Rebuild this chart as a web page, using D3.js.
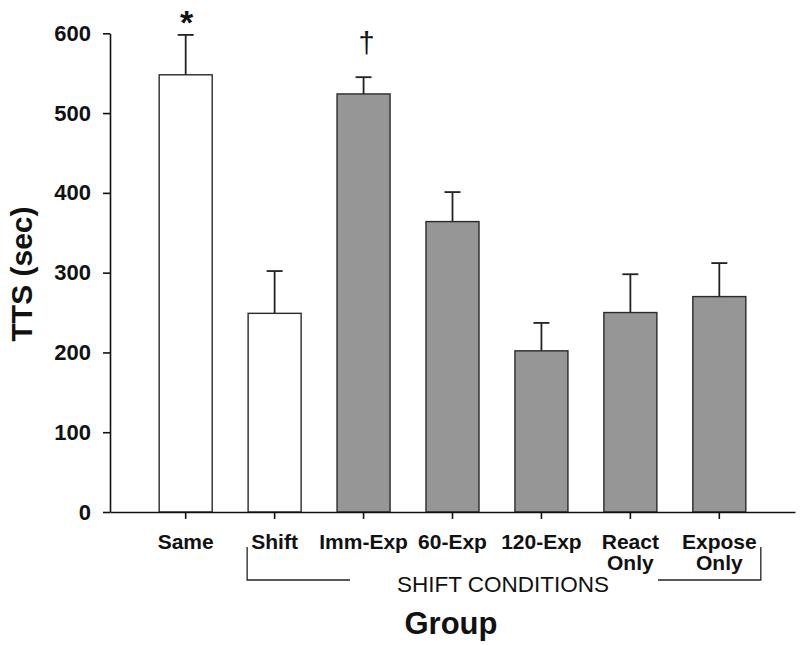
<!DOCTYPE html>
<html>
<head>
<meta charset="utf-8">
<script src="https://cdn.jsdelivr.net/npm/d3@7"></script>
<style>
  html, body { margin: 0; padding: 0; background: #fff; }
  svg { display: block; }
  text { font-family: "Liberation Sans", Arial, Helvetica, sans-serif; fill: #111; }
</style>
</head>
<body>
<svg id="chart" width="800" height="645"></svg>
<script>
// ---- data ----
const categories = ["Same", "Shift", "Imm-Exp", "60-Exp", "120-Exp", "React Only", "Expose Only"];
const meanTTS   = [548, 249, 524, 364, 202, 250, 270];
const semTTS    = [50, 53, 21, 37, 35, 48, 42];
const groupType = ["control", "control", "shift", "shift", "shift", "shift", "shift"];
const yTicks    = [0, 100, 200, 300, 400, 500, 600];
const marks     = [{cat: "Same", symbol: "*"}, {cat: "Imm-Exp", symbol: "\u2020"}];

// ---- layout ----
const svg = d3.select("#chart");
const x0 = 110, x1 = 795, yTop = 33.3, yBot = 512;

const x = d3.scaleBand().domain(categories).range([x0, x1])
  .paddingInner(0.404).paddingOuter(0.553);
const y = d3.scaleLinear().domain([0, 600]).range([yBot, yTop]);

const fillFor = t => t === "control" ? "#ffffff" : "#969696";
const data = categories.map((c, i) => ({c, v: meanTTS[i], e: semTTS[i], t: groupType[i]}));

// bars
svg.append("g").selectAll("rect").data(data).join("rect")
  .attr("x", d => x(d.c)).attr("y", d => y(d.v))
  .attr("width", x.bandwidth()).attr("height", d => y(0) - y(d.v))
  .attr("fill", d => fillFor(d.t)).attr("stroke", "#2a2a2a").attr("stroke-width", 1.4);

// error bars (upper only)
const eb = svg.append("g").attr("stroke", "#222").attr("stroke-width", 1.8);
eb.selectAll("line.v").data(data).join("line").attr("class", "v")
  .attr("x1", d => x(d.c) + x.bandwidth() / 2).attr("x2", d => x(d.c) + x.bandwidth() / 2)
  .attr("y1", d => y(d.v)).attr("y2", d => y(d.v + d.e));
eb.selectAll("line.cap").data(data).join("line").attr("class", "cap")
  .attr("x1", d => x(d.c) + x.bandwidth() / 2 - 8).attr("x2", d => x(d.c) + x.bandwidth() / 2 + 8)
  .attr("y1", d => y(d.v + d.e)).attr("y2", d => y(d.v + d.e));

// y axis
const yAxis = svg.append("g").attr("transform", `translate(${x0},0)`)
  .call(d3.axisLeft(y).tickValues(yTicks).tickSize(7).tickPadding(12).tickSizeOuter(0));
yAxis.select(".domain").attr("stroke", "#111").attr("stroke-width", 1.6);
yAxis.selectAll(".tick line").attr("stroke", "#111").attr("stroke-width", 1.6);
yAxis.selectAll(".tick text")
  .style("font-family", '"Liberation Sans", Arial, sans-serif')
  .style("font-size", "22px").style("font-weight", "bold").attr("fill", "#111");

// x axis
const xAxis = svg.append("g").attr("transform", `translate(0,${yBot})`)
  .call(d3.axisBottom(x).tickSize(7).tickSizeOuter(0).tickFormat(""));
xAxis.select(".domain").attr("stroke", "#111").attr("stroke-width", 1.6);
xAxis.selectAll(".tick line").attr("stroke", "#111").attr("stroke-width", 1.6);

// x tick labels (multi-line)
const xl = svg.append("g").selectAll("text").data(categories).join("text")
  .attr("text-anchor", "middle")
  .style("font-size", "21px").style("font-weight", "bold");
xl.each(function(c) {
  const parts = c.split(" ");
  const t = d3.select(this);
  parts.forEach((p, i) => {
    t.append("tspan").attr("x", x(c) + x.bandwidth() / 2).attr("y", 549 + i * 21).text(p);
  });
});

// significance marks
svg.append("g").selectAll("text").data(marks).join("text")
  .attr("x", d => x(d.cat) + x.bandwidth() / 2 + (d.symbol === "*" ? 1 : 3))
  .attr("y", d => d.symbol === "*" ? 34 : 53)
  .attr("text-anchor", "middle")
  .style("font-size", d => d.symbol === "*" ? "34px" : "29px")
  .style("font-weight", d => d.symbol === "*" ? "bold" : "normal")
  .text(d => d.symbol);

// shift-conditions bracket
const leftB = x("Shift") + x.bandwidth() / 2 - 27.5;
const rightB = x("Expose Only") + x.bandwidth() / 2 + 41.5;
const br = svg.append("g").attr("stroke", "#222").attr("stroke-width", 1.3).attr("fill", "none");
br.append("path").attr("d", `M${leftB},547 V580 H350`);
br.append("path").attr("d", `M658,580 H${rightB} V547`);
svg.append("text").attr("x", 503).attr("y", 592).attr("text-anchor", "middle")
  .style("font-size", "22.5px").text("SHIFT CONDITIONS");

// axis titles
svg.append("text").attr("x", 451).attr("y", 634).attr("text-anchor", "middle")
  .style("font-size", "31px").style("font-weight", "bold").text("Group");
svg.append("text").attr("transform", "translate(32,274) rotate(-90)").attr("text-anchor", "middle")
  .style("font-size", "30px").style("font-weight", "bold").text("TTS (sec)");
</script>
</body>
</html>
